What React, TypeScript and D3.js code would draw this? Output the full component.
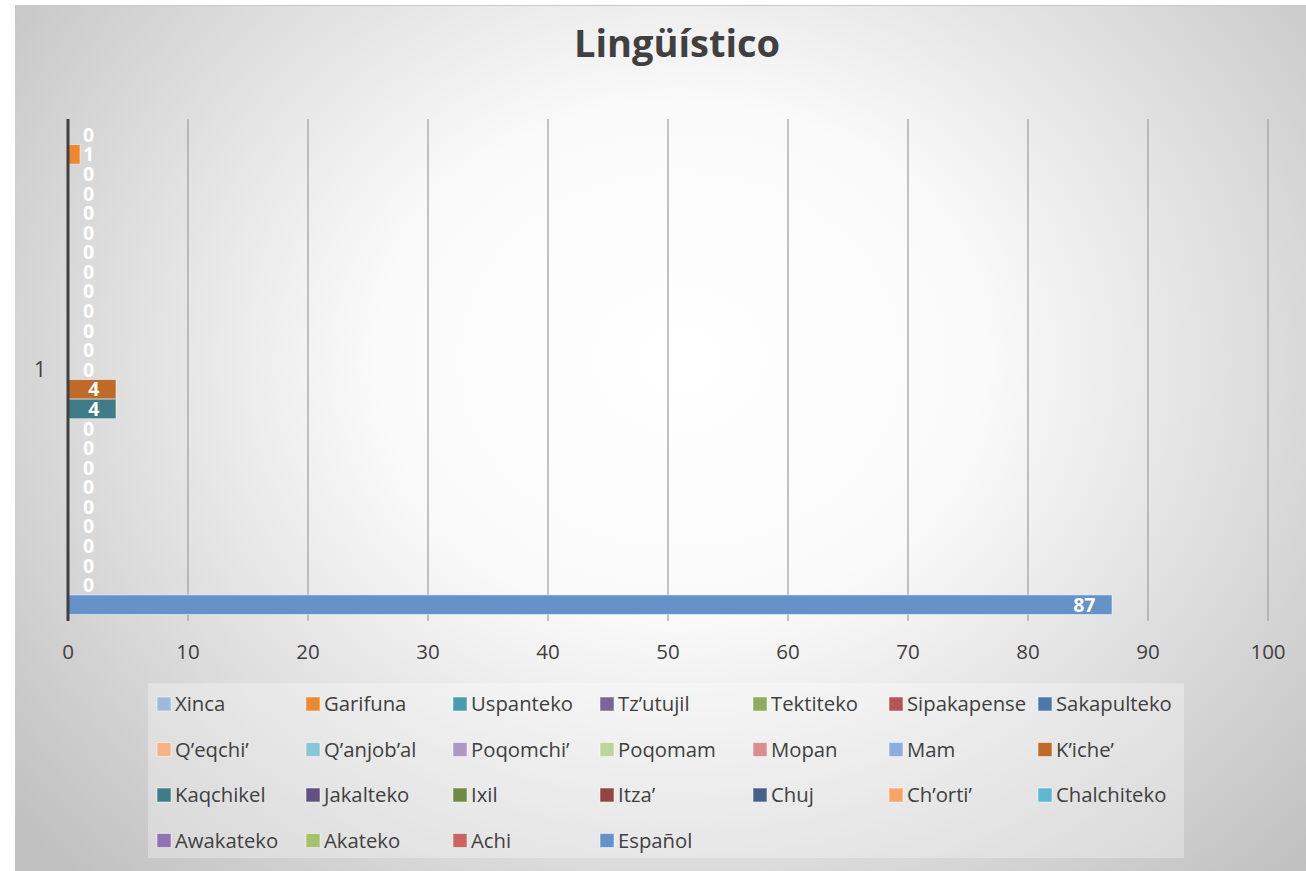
import React from "react";
import * as d3 from "d3";

const chartTitle = "Lingüístico";
const categories = ["1"];
const seriesNames = [
  "Xinca", "Garifuna", "Uspanteko", "Tz’utujil", "Tektiteko", "Sipakapense", "Sakapulteko",
  "Q’eqchi’", "Q’anjob’al", "Poqomchi’", "Poqomam", "Mopan", "Mam", "K’iche’",
  "Kaqchikel", "Jakalteko", "Ixil", "Itza’", "Chuj", "Ch’orti’", "Chalchiteko",
  "Awakateko", "Akateko", "Achi", "Español",
];
const seriesValues = [0, 1, 0, 0, 0, 0, 0, 0, 0, 0, 0, 0, 0, 4, 4, 0, 0, 0, 0, 0, 0, 0, 0, 0, 87];
const seriesColors = [
  "#a0badd", "#ef8630", "#4a9bae", "#7a6498", "#8fad5a", "#b55452", "#4f77a9",
  "#f8b288", "#87c7d8", "#ab98c6", "#bfd39b", "#da8f8e", "#8aade0", "#c06a2a",
  "#3f7c8a", "#625080", "#6f8a44", "#914645", "#47618b", "#f8a466", "#5db8cf",
  "#9073b2", "#a6c26c", "#cc6461", "#6592c9",
];
const xTicks = [0, 10, 20, 30, 40, 50, 60, 70, 80, 90, 100];

const W = 1306;
const H = 871;
const FONT = "'Open Sans', 'Noto Sans', sans-serif";
const TEXT = "#404040";

const plot = { left: 68, right: 1268, top: 119, bottom: 620 };
const legendCols = [157, 306, 453, 600, 753, 889, 1038];
const legendRows = [704, 749.5, 795, 840.5];

export default function App() {
  const x = d3.scaleLinear().domain([0, 100]).range([plot.left, plot.right]);
  const yCat = d3.scaleBand().domain(categories).range([plot.top, plot.bottom]);
  const cat0 = yCat(categories[0]) as number;
  const y = d3
    .scaleBand()
    .domain(seriesNames)
    .range([cat0 + 6, cat0 + yCat.bandwidth() - 5.5]);
  const bw = y.bandwidth();

  return (
    <svg
      width={W}
      height={H}
      style={{ position: "absolute", left: 0, top: 0, fontFamily: FONT }}
    >
      <defs>
        <radialGradient
          id="bg"
          gradientUnits="userSpaceOnUse"
          cx={680}
          cy={360}
          r={860}
          gradientTransform="translate(680 360) scale(1 0.85) translate(-680 -360)"
        >
          <stop offset="0" stopColor="#ffffff" />
          <stop offset="0.35" stopColor="#fafafa" />
          <stop offset="1" stopColor="#c0c0c0" />
        </radialGradient>
      </defs>
      <rect x={0} y={0} width={W} height={H} fill="#ffffff" />
      <rect x={15} y={5} width={W - 15} height={H - 5} fill="url(#bg)" />
      <line x1={15} x2={W} y1={5.5} y2={5.5} stroke="#c8c8c8" strokeWidth={1} />

      <text
        x={677}
        y={57}
        textAnchor="middle"
        fontSize={38}
        fontWeight={700}
        fill={TEXT}
      >
        {chartTitle}
      </text>

      {/* gridlines */}
      {xTicks.slice(1).map((t) => (
        <line
          key={"g" + t}
          x1={x(t)}
          x2={x(t)}
          y1={plot.top}
          y2={plot.bottom + 1}
          stroke="#a3a3a3"
          strokeWidth={1.3}
        />
      ))}

      {/* bars */}
      {seriesNames.map((name, i) => {
        const v = seriesValues[i];
        const yy = y(name) as number;
        const w = x(v) - x(0);
        return w > 0 ? (
          <rect
            key={"b" + name}
            x={x(0)}
            y={yy}
            width={w}
            height={bw}
            fill={seriesColors[i]}
            stroke="rgba(255,255,255,0.5)"
            strokeWidth={1}
          />
        ) : null;
      })}

      {/* axis line */}
      <line
        x1={x(0)}
        x2={x(0)}
        y1={plot.top}
        y2={plot.bottom + 1}
        stroke="#404040"
        strokeWidth={3}
      />

      {/* data labels */}
      {seriesNames.map((name, i) => {
        const v = seriesValues[i];
        const yy = (y(name) as number) + bw / 2;
        const label = String(v);
        const tw = label.length * 11.5;
        const endX = x(v) - 16.5;
        const startMin = x(0) + 15;
        const useStart = endX - tw < startMin;
        return (
          <text
            key={"l" + name}
            x={useStart ? startMin : endX}
            y={yy}
            dy="0.36em"
            textAnchor={useStart ? "start" : "end"}
            fontSize={19.5}
            fontWeight={700}
            fill="#ffffff"
          >
            {label}
          </text>
        );
      })}

      {/* x tick labels */}
      {xTicks.map((t) => (
        <text
          key={"t" + t}
          x={x(t)}
          y={652}
          dy="0.36em"
          textAnchor="middle"
          fontSize={20.5}
          fill={TEXT}
        >
          {t}
        </text>
      ))}

      {/* category label */}
      <text
        x={40}
        y={cat0 + yCat.bandwidth() / 2}
        dy="0.36em"
        textAnchor="middle"
        fontSize={21}
        fill={TEXT}
      >
        {categories[0]}
      </text>

      {/* legend */}
      <rect x={148} y={683} width={1036} height={175} fill="rgba(255,255,255,0.3)" />
      {seriesNames.map((name, i) => {
        const cx = legendCols[i % 7];
        const cy = legendRows[Math.floor(i / 7)];
        return (
          <g key={"lg" + name}>
            <rect
              x={cx}
              y={cy - 7}
              width={14}
              height={14}
              fill={seriesColors[i]}
              stroke="rgba(255,255,255,0.5)"
              strokeWidth={1}
            />
            <text x={cx + 18} y={cy} dy="0.36em" fontSize={20.3} fill={TEXT}>
              {name}
            </text>
          </g>
        );
      })}
    </svg>
  );
}
